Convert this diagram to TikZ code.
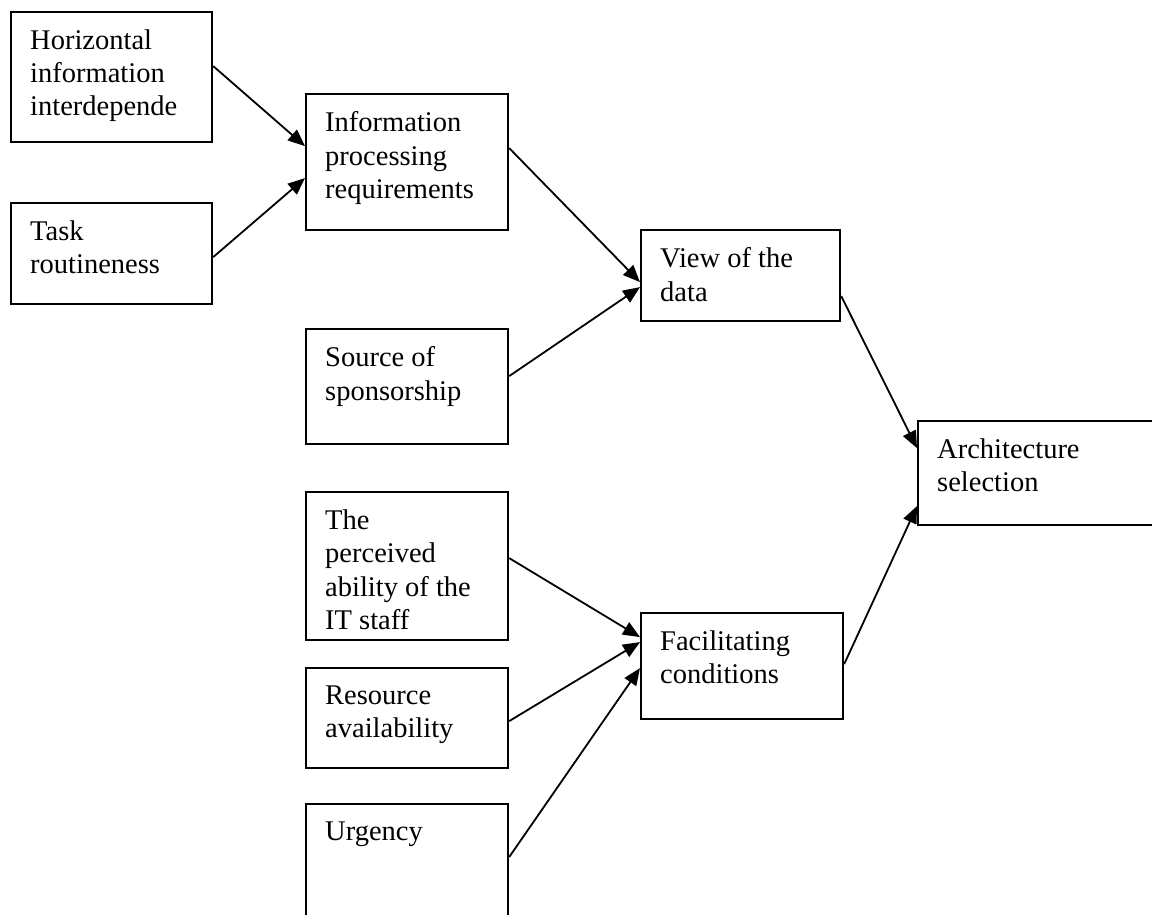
\documentclass[tikz,border=0pt]{standalone}
\usepackage{fontspec}
\setmainfont{Liberation Serif}
\usetikzlibrary{arrows.meta}

\tikzset{
  boxnode/.style={draw, line width=2.2pt, inner sep=0pt, anchor=north west},
  boxtext/.style={anchor=north west, inner sep=0pt, align=left,
    font=\fontsize{28.5}{33.3}\selectfont},
  link/.style={line width=1.8pt, -{Triangle[length=17pt,width=14pt]}}
}

% place a box with its top-left corner at (#2,#3), size #4 x #5, and its text
\newcommand{\factorbox}[6]{%
  \node[boxnode, minimum width=#4pt, minimum height=#5pt] (#1) at (#2,#3) {};
  \node[boxtext] (#1txt) at ([xshift=20pt,yshift=-18.5pt]#1.north west) {#6};
}

\begin{document}
\begin{tikzpicture}[x=1pt,y=-1pt]
  \useasboundingbox (0,0) rectangle (1152,914);
  \clip (0,0) rectangle (1152,914);

  % antecedents
  \factorbox{hii}{10}{10.7}{201}{130.3}{Horizontal\\information\\interdepende}
  \factorbox{tr}{10}{202}{201}{101}{Task\\routineness}
  \factorbox{ipr}{305}{93}{202}{136}{Information\\processing\\requirements}
  \factorbox{sos}{305}{328}{202}{115}{Source of\\sponsorship}
  \factorbox{pit}{305}{491}{202}{148}{The\\perceived\\ability of the\\IT staff}
  \factorbox{ra}{305}{667}{202}{100}{Resource\\availability}
  \factorbox{urg}{305}{803}{202}{130}{Urgency}

  % intermediate constructs
  \factorbox{vd}{640}{229}{199}{91}{View of the\\data}
  \factorbox{fc}{640}{612}{202}{106}{Facilitating\\conditions}

  % outcome
  \factorbox{as}{917}{420}{250}{104}{Architecture\\selection}

  % relationships
  \draw[link] ([yshift=10.85pt]hii.east) -- ([yshift=16pt]ipr.west);
  \draw[link] ([yshift=-3.5pt]tr.east) -- ([yshift=-16pt]ipr.west);
  \draw[link] ([yshift=14pt]ipr.east) -- ([yshift=-6.5pt]vd.west);
  \draw[link] ([yshift=10.5pt]sos.east) -- ([yshift=-11.5pt]vd.west);
  \draw[link] ([yshift=-20.5pt]vd.east) -- ([yshift=25pt]as.west);
  \draw[link] ([yshift=2pt]fc.east) -- ([yshift=-33pt]as.west);
  \draw[link] ([yshift=8pt]pit.east) -- ([yshift=29pt]fc.west);
  \draw[link] ([yshift=-3pt]ra.east) -- ([yshift=24pt]fc.west);
  \draw[link] ([yshift=-54pt]urg.north east) -- ([yshift=-2pt]fc.west);
\end{tikzpicture}
\end{document}
